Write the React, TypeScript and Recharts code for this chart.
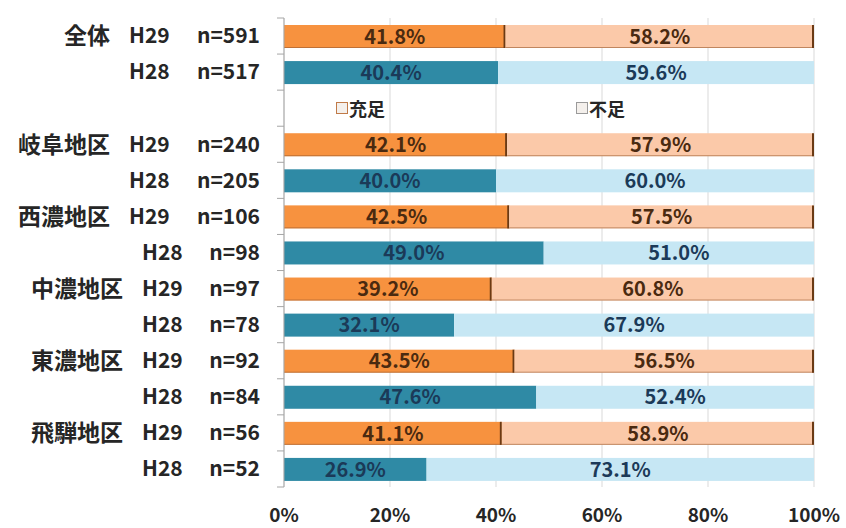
import { BarChart, Bar, XAxis, YAxis, CartesianGrid, LabelList, Legend } from "recharts";

// rows top to bottom; the empty row holds the legend
const regions = ["全体", "", "", "岐阜地区", "", "西濃地区", "", "中濃地区", "", "東濃地区", "", "飛騨地区", ""];
const years = ["H29", "H28", "", "H29", "H28", "H29", "H28", "H29", "H28", "H29", "H28", "H29", "H28"];
const counts = ["n=591", "n=517", "", "n=240", "n=205", "n=106", "n=98", "n=97", "n=78", "n=92", "n=84", "n=56", "n=52"];
const sufficient = [41.8, 40.4, null, 42.1, 40.0, 42.5, 49.0, 39.2, 32.1, 43.5, 47.6, 41.1, 26.9];
const insufficient = [58.2, 59.6, null, 57.9, 60.0, 57.5, 51.0, 60.8, 67.9, 56.5, 52.4, 58.9, 73.1];
const seriesNames = ["充足", "不足"];
const xTicks = [0, 20, 40, 60, 80, 100];

const data = regions.map((r, i) => ({
  id: "row" + i,
  sufficient: sufficient[i],
  insufficient: insufficient[i],
}));

const FONT = '"Noto Sans CJK JP", "Noto Sans", sans-serif';
const TEXT = "#262626";

const colors = {
  H29: { sufficient: "#f7923f", insufficient: "#fbc9a9", label: "#4a2a10" },
  H28: { sufficient: "#2f8aa5", insufficient: "#c6e7f4", label: "#1b3a58" },
};

const RowTick = (props: any) => {
  const { x, y, payload } = props;
  const i = payload.index ?? data.findIndex((d) => d.id === payload.value);
  const half = payload.offset || 18;
  const shift = counts[i] && counts[i].length < 5 ? 13 : 0;
  const axisX = x + 8;
  return (
    <g fontFamily={FONT} fontWeight="bold" fontSize={21} fill={TEXT}>
      <line x1={axisX - 7} x2={axisX} y1={y - half} y2={y - half} stroke="#a6a6a6" />
      {i === data.length - 1 && (
        <line x1={axisX - 7} x2={axisX} y1={y + half} y2={y + half} stroke="#a6a6a6" />
      )}
      <text x={x - 166 + shift} y={y} dy="0.36em" textAnchor="end" fontSize={23}>{regions[i]}</text>
      <text x={x - 147 + shift} y={y} dy="0.35em" textAnchor="start">{years[i]}</text>
      <text x={x - 16} y={y} dy="0.35em" textAnchor="end">{counts[i]}</text>
    </g>
  );
};

const SegmentShape = (key: "sufficient" | "insufficient") => (props: any) => {
  const { x, y, width, height, index } = props;
  if (!width || !height) return null;
  const yr = years[index] as "H29" | "H28";
  const c = colors[yr] || colors.H29;
  return (
    <g>
      <rect x={x} y={y} width={width} height={height} fill={c[key]} />
      {yr === "H29" && (
        <>
          <line x1={x} x2={x + width} y1={y + height - 0.5} y2={y + height - 0.5} stroke="#9a5a2e" strokeOpacity={0.6} />
          <line x1={x + width - 1} x2={x + width - 1} y1={y} y2={y + height} stroke="#6b3a14" strokeWidth={2} />
        </>
      )}
    </g>
  );
};

const ValueLabel = (props: any) => {
  const { x, y, width, height, value, index } = props;
  if (value == null) return null;
  const yr = years[index] as "H29" | "H28";
  const c = colors[yr] || colors.H29;
  return (
    <text
      x={x + width / 2}
      y={y + height / 2}
      dy="0.36em"
      textAnchor="middle"
      fontFamily={FONT}
      fontWeight="bold"
      fontSize={20}
      fill={c.label}
    >
      {Number(value).toFixed(1)}%
    </text>
  );
};

const LegendBox = (props: any) => {
  const items = [...(props.payload || [])].sort(
    (a: any, b: any) => seriesNames.indexOf(a.value) - seriesNames.indexOf(b.value)
  );
  const boxes = ["#c07a48", "#9a9a9a"];
  return (
    <div style={{ display: "flex", fontFamily: FONT, fontWeight: "bold", fontSize: 18, color: TEXT }}>
      {items.map((p: any, i: number) => (
        <div key={p.value} style={{ width: 240, display: "flex", alignItems: "center" }}>
          <span
            style={{
              display: "inline-block",
              width: 10,
              height: 10,
              border: "1.5px solid " + boxes[i],
              background: "#f4f0ec",
              marginRight: 1,
            }}
          />
          {p.value}
        </div>
      ))}
    </div>
  );
};

export default function App() {
  return (
    <div style={{ position: "absolute", left: 0, top: 0, background: "#fff" }}>
      <BarChart
        width={846}
        height={528}
        data={data}
        layout="vertical"
        margin={{ top: 18, right: 32, bottom: 11, left: 0 }}
        barSize={23}
      >
        <CartesianGrid horizontal={false} stroke="#d9d9d9" />
        <XAxis
          type="number"
          domain={[0, 100]}
          ticks={xTicks}
          tickFormatter={(v) => v + "%"}
          axisLine={false}
          tickLine={false}
          tickMargin={16}
          height={30}
          tick={{ fontFamily: FONT, fontWeight: "bold", fontSize: 19, fill: TEXT }}
        />
        <YAxis
          type="category"
          dataKey="id"
          width={284}
          axisLine={{ stroke: "#a6a6a6" }}
          tickLine={false}
          tick={<RowTick />}
          interval={0}
        />
        <Legend
          layout="horizontal"
          verticalAlign="middle"
          align="center"
          content={<LegendBox />}
          wrapperStyle={{ position: "absolute", left: 336, top: 95, width: 500 }}
        />
        <Bar dataKey="sufficient" name={seriesNames[0]} stackId="a" fill="#f7923f" shape={SegmentShape("sufficient")} isAnimationActive={false}>
          <LabelList dataKey="sufficient" content={<ValueLabel />} />
        </Bar>
        <Bar dataKey="insufficient" name={seriesNames[1]} stackId="a" fill="#fbc9a9" shape={SegmentShape("insufficient")} isAnimationActive={false}>
          <LabelList dataKey="insufficient" content={<ValueLabel />} />
        </Bar>
      </BarChart>
    </div>
  );
}
